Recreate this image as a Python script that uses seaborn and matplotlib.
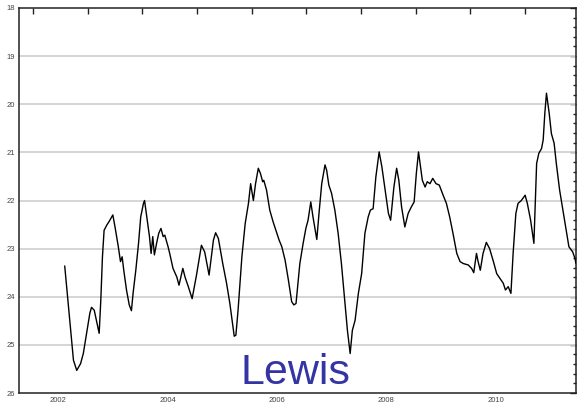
import matplotlib
matplotlib.use("Agg")
import matplotlib.pyplot as plt
import seaborn as sns
import numpy as np
import pandas as pd

# decimal year positions and values (inverted axis)
years = [
    2002.58, 2002.74, 2002.80, 2002.87, 2002.92, 2002.98, 2003.04, 2003.07, 2003.12, 2003.16,
    2003.21, 2003.24, 2003.27, 2003.30, 2003.35, 2003.39, 2003.46, 2003.50, 2003.56, 2003.60,
    2003.63, 2003.66, 2003.71, 2003.76, 2003.80, 2003.83, 2003.88, 2003.93, 2003.97, 2004.02,
    2004.04, 2004.08, 2004.13, 2004.16, 2004.19, 2004.22, 2004.26, 2004.30, 2004.34, 2004.38,
    2004.41, 2004.47, 2004.50, 2004.56, 2004.63, 2004.67, 2004.74, 2004.78, 2004.84, 2004.91,
    2004.99, 2005.08, 2005.14, 2005.22, 2005.30, 2005.34, 2005.39, 2005.47, 2005.54, 2005.60,
    2005.65, 2005.68, 2005.71, 2005.75, 2005.82, 2005.88, 2005.94, 2005.98, 2006.03, 2006.07,
    2006.12, 2006.16, 2006.20, 2006.22, 2006.27, 2006.33, 2006.39, 2006.46, 2006.50, 2006.55,
    2006.61, 2006.67, 2006.73, 2006.77, 2006.81, 2006.88, 2006.94, 2006.99, 2007.03, 2007.08,
    2007.12, 2007.19, 2007.23, 2007.28, 2007.34, 2007.37, 2007.41, 2007.46, 2007.52, 2007.58,
    2007.64, 2007.70, 2007.75, 2007.80, 2007.84, 2007.89, 2007.95, 2008.01, 2008.07, 2008.13,
    2008.17, 2008.22, 2008.27, 2008.33, 2008.38, 2008.44, 2008.50, 2008.54, 2008.60, 2008.65,
    2008.69, 2008.74, 2008.80, 2008.86, 2008.92, 2008.97, 2009.01, 2009.05, 2009.07, 2009.12,
    2009.17, 2009.21, 2009.26, 2009.31, 2009.37, 2009.43, 2009.50, 2009.56, 2009.62, 2009.68,
    2009.75, 2009.81, 2009.87, 2009.96, 2010.02, 2010.06, 2010.11, 2010.14, 2010.18, 2010.23,
    2010.29, 2010.35, 2010.42, 2010.48, 2010.54, 2010.60, 2010.64, 2010.69, 2010.74, 2010.78,
    2010.83, 2010.87, 2010.93, 2011.00, 2011.04, 2011.10, 2011.16, 2011.21, 2011.25, 2011.30,
    2011.33, 2011.36, 2011.39, 2011.44, 2011.48, 2011.53, 2011.57, 2011.63, 2011.70, 2011.76,
    2011.80, 2011.87, 2011.91, 2011.93,
]
values = [
    23.36, 25.32, 25.53, 25.39, 25.18, 24.76, 24.34, 24.22, 24.28, 24.49,
    24.76, 24.07, 23.17, 22.62, 22.51, 22.44, 22.30, 22.55, 22.96, 23.27,
    23.17, 23.45, 23.86, 24.17, 24.29, 23.93, 23.45, 22.89, 22.34, 22.06,
    22.00, 22.34, 22.75, 23.10, 22.75, 23.13, 22.89, 22.68, 22.58, 22.75,
    22.72, 22.96, 23.10, 23.41, 23.59, 23.76, 23.41, 23.59, 23.79, 24.04,
    23.55, 22.93, 23.07, 23.55, 22.82, 22.67, 22.79, 23.31, 23.72, 24.14,
    24.56, 24.82, 24.80, 24.28, 23.17, 22.48, 22.06, 21.65, 22.00, 21.65,
    21.33, 21.44, 21.61, 21.58, 21.78, 22.20, 22.44, 22.68, 22.82, 22.96,
    23.24, 23.65, 24.10, 24.17, 24.14, 23.31, 22.89, 22.58, 22.41, 22.03,
    22.34, 22.81, 22.27, 21.65, 21.26, 21.37, 21.68, 21.85, 22.20, 22.68,
    23.31, 24.07, 24.70, 25.18, 24.70, 24.49, 23.93, 23.52, 22.68, 22.34,
    22.20, 22.17, 21.51, 20.99, 21.30, 21.78, 22.27, 22.41, 21.72, 21.33,
    21.58, 22.13, 22.55, 22.27, 22.13, 22.03, 21.44, 20.99, 21.16, 21.58,
    21.72, 21.61, 21.65, 21.54, 21.65, 21.68, 21.89, 22.06, 22.34, 22.68,
    23.10, 23.27, 23.31, 23.34, 23.41, 23.50, 23.10, 23.27, 23.45, 23.10,
    22.87, 23.00, 23.27, 23.52, 23.62, 23.72, 23.86, 23.79, 23.93, 23.10,
    22.27, 22.06, 22.00, 21.89, 22.06, 22.41, 22.89, 21.23, 21.02, 20.92,
    20.74, 20.19, 19.77, 20.19, 20.61, 20.81, 21.23, 21.78, 22.27, 22.68,
    22.96, 23.07, 23.20, 23.31,
]
year_ticks = list(range(2002, 2012))
year_labels = ["2002", "2004", "2006", "2008", "2010"]
y_ticks = list(range(18, 27))
title_text = "Lewis"

sns.set_style("white")
plt.rcParams["font.family"] = ["Liberation Sans", "DejaVu Sans"]

fig = plt.figure(figsize=(5.78, 4.04), dpi=100)
ax = fig.add_axes([19 / 578, 11 / 404, 557 / 578, 385 / 404])

df = pd.DataFrame({"year": years, "value": values})
sns.lineplot(data=df, x="year", y="value", ax=ax, color="black",
             linewidth=1.0, sort=False, estimator=None, zorder=3)

ax.set_xlim(2001.744, 2011.93)
ax.set_ylim(26, 18)

ax.set_xticks(year_ticks)
ax.set_xticklabels([""] * len(year_ticks))
ax.set_xticks([int(s) + 0.46 for s in year_labels], minor=True)
ax.set_xticklabels(year_labels, minor=True)

ax.set_yticks(y_ticks)
ax.set_yticklabels([str(v) for v in y_ticks])
ax.set_yticks(np.arange(18, 26.001, 0.2), minor=True)

ax.tick_params(axis="both", which="both", direction="in", top=True, right=True,
               labelsize=5.5, labelcolor="#444444", color="#222222", width=1.0)
ax.tick_params(axis="y", which="major", length=4, pad=3)
ax.tick_params(axis="y", which="minor", length=2.5)
ax.tick_params(axis="x", which="major", length=4, pad=2)
ax.tick_params(axis="x", which="minor", length=0, pad=3)

for v in y_ticks[1:-1]:
    ax.axhline(v, color="#d2d2d2", linewidth=1.3, zorder=1)

for s in ax.spines.values():
    s.set_color("#222222")
    s.set_linewidth(1.1)

ax.set_xlabel("")
ax.set_ylabel("")

ax.text(0.4955, 0.023, title_text, transform=ax.transAxes, ha="center", va="baseline",
        fontsize=31, color="#3434A4", zorder=4)

fig.savefig("out.png", dpi=100)
